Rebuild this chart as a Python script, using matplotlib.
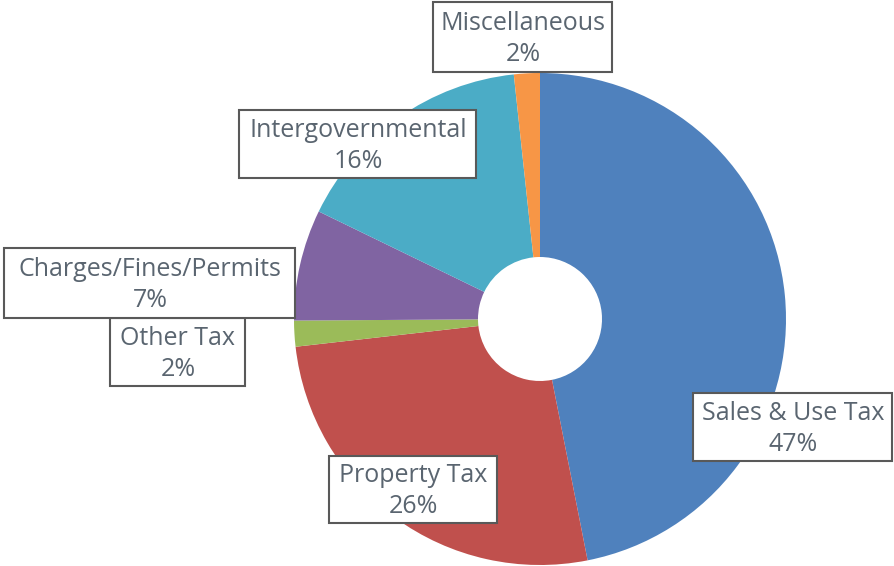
import matplotlib.pyplot as plt

# revenue shares, clockwise from 12 o'clock
categories = ["Sales & Use Tax", "Property Tax", "Other Tax",
              "Charges/Fines/Permits", "Intergovernmental", "Miscellaneous"]
shares = [46.9, 26.3, 1.7, 7.3, 16.1, 1.7]
pct_labels = ["47%", "26%", "2%", "7%", "16%", "2%"]
colors = ["#4F81BD", "#C0504D", "#9BBB59", "#8064A2", "#4BACC6", "#F79646"]

# label box centres (pixels, y from top)
label_pos = [(793, 427), (413, 489), (178, 352), (150, 283), (358, 144), (523, 37)]

W, H = 895, 566
fig = plt.figure(figsize=(W / 100, H / 100), dpi=100)
ax = fig.add_axes([0, 0, 1, 1])
ax.set_xlim(0, W)
ax.set_ylim(0, H)
ax.set_aspect("equal")
ax.axis("off")

cx, cy, r, r_hole = 540, H - 319, 246, 62
ax.pie(shares, colors=colors, startangle=90, counterclock=False,
       center=(cx, cy), radius=r, frame=True,
       wedgeprops=dict(width=r - r_hole, linewidth=0))
ax.set_xlim(0, W)
ax.set_ylim(0, H)
ax.axis("off")

box_sizes = [(199, 68), (168, 67), (135, 68), (291, 70), (237, 68), (179, 70)]
for name, pct, (x, y), (bw, bh) in zip(categories, pct_labels, label_pos, box_sizes):
    ax.add_patch(plt.Rectangle((x - bw / 2, H - y - bh / 2), bw, bh,
                               facecolor="white", edgecolor="#595959",
                               linewidth=1.5, zorder=5))
    ax.text(x, H - y - 2, name + "\n" + pct, ha="center", va="center",
            fontsize=18, color="#5A6570", family="Open Sans",
            linespacing=1.3, zorder=6)

fig.savefig("out.png", dpi=100)
